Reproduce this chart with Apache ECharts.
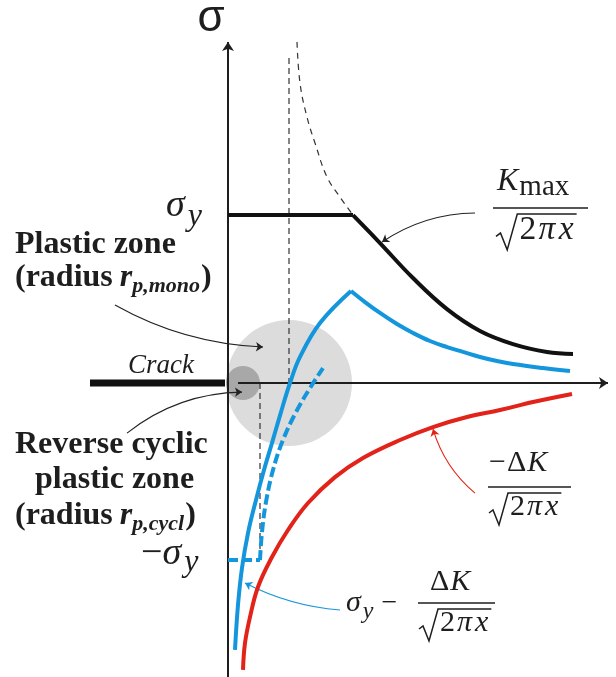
<!DOCTYPE html>
<html>
<head>
<meta charset="utf-8">
<script src="https://cdn.jsdelivr.net/npm/echarts@6/dist/echarts.min.js"></script>
<style>
  html, body { margin: 0; padding: 0; background: #fff; }
  #main { width: 616px; height: 677px; }
</style>
</head>
<body>
<div id="main"></div>
<script>
// x: distance ahead of the crack tip (arbitrary units), y: stress in units of sigma_y
var negSigmaY = -1.054;

var kmaxPlateau = [[0, 1], [6.25, 1]];
var kmaxDecay = [[6.25, 1], [7.6, 0.833], [9.25, 0.625], [10.95, 0.44], [12.6, 0.31], [14.25, 0.232],
  [15.95, 0.185], [17.25, 0.173]];
var kmaxElastic = [[3.45, 2.03], [3.6, 1.786], [3.95, 1.583], [4.35, 1.429], [4.95, 1.226], [5.6, 1.107], [6.25, 1]];
var blueRise = [[0.35, -1.589], [0.5, -1.321], [0.7, -1.101], [1.0, -0.893], [1.4, -0.696], [1.8, -0.518],
  [2.2, -0.357], [2.65, -0.173], [3.1, 0], [3.6, 0.155], [4.6, 0.357], [6.15, 0.548]];
var blueDecay = [[6.15, 0.548], [6.85, 0.482], [7.6, 0.417], [8.45, 0.351], [9.25, 0.298], [10.1, 0.25],
  [10.95, 0.214], [11.75, 0.185], [12.6, 0.155], [13.45, 0.131], [14.25, 0.113], [15.75, 0.089], [17.1, 0.071]];
var blueDashed = [[1.6, -1.054], [1.7, -0.887], [1.9, -0.708], [2.25, -0.518], [2.75, -0.339], [3.4, -0.173],
  [4.1, -0.03], [4.75, 0.089]];
var blueFloor = [[0, negSigmaY], [1.6, negSigmaY]];
var redCurve = [[0.75, -1.708], [0.85, -1.548], [1.1, -1.393], [1.5, -1.214], [2.2, -1.036], [3.0, -0.875],
  [4.0, -0.714], [5.35, -0.56], [6.75, -0.446], [8.6, -0.339], [10.25, -0.262], [11.95, -0.202],
  [13.6, -0.161], [15.25, -0.113], [17.2, -0.065]];
var monoEdge = [[3.05, 1.935], [3.05, 0]];
var cyclEdge = [[1.6, 0], [1.6, negSigmaY]];
var monoZone = [[3.05, 0]];
var cyclZone = [[0.75, 0]];
var crack = [[-6.9, 0], [-0.15, 0]];
var sigmaAxis = [[0, -1.75], [0, 2.03]];
var xAxisLine = [[0.5, 0], [19, 0]];

// pointers from the labels to the curves: [from, to, curveness, colour]
var pointers = [
  [[12.35, 1.012], [7.7, 0.839], -0.15, '#222'],
  [[-5.65, 0.464], [1.75, 0.214], -0.12, '#222'],
  [[-5.05, -0.298], [0.7, -0.054], 0.17, '#222'],
  [[12.35, -0.655], [10.25, -0.274], 0.15, '#e2231a'],
  [[5.6, -1.351], [0.85, -1.19], 0.1, '#1496dc']
];

var BLUE = '#1496dc';
var RED = '#e2231a';
var INK = '#1e1e1e';

function curve(data, color, width, dash, smooth, z) {
  return {
    type: 'line', data: data, smooth: smooth, showSymbol: false, symbol: 'none', silent: true, z: z || 3,
    lineStyle: { color: color, width: width, type: dash || 'solid', cap: 'butt' }
  };
}

function zone(data, color, size) {
  return {
    type: 'scatter', data: data, symbol: 'circle', symbolSize: size, silent: true, z: 1,
    itemStyle: { color: color, opacity: 1 }
  };
}

function axisArrow(data) {
  return {
    type: 'lines', coordinateSystem: 'cartesian2d', silent: true, z: 4,
    symbol: ['none', 'arrow'], symbolSize: 9,
    lineStyle: { color: INK, width: 2, opacity: 1, curveness: 0 },
    data: [{ coords: data }]
  };
}

var pointerSeries = pointers.map(function (p) {
  return {
    type: 'lines', coordinateSystem: 'cartesian2d', silent: true, z: 5,
    symbol: ['none', 'arrow'], symbolSize: 7,
    lineStyle: { color: p[3], width: 1.1, opacity: 1, curveness: p[2] },
    data: [{ coords: [p[0], p[1]] }]
  };
});

// ---- text helpers (annotations in page pixels) ----
var measure = document.createElement('canvas').getContext('2d');
var SERIF = '"Liberation Serif", "DejaVu Serif", serif';
var graphics = [];

function fontOf(p) {
  return (p.it ? 'italic ' : 'normal ') + (p.b ? 'bold ' : 'normal ') + p.s + 'px ' + (p.fam || SERIF);
}

function row(x, base, parts) {
  var cx = x;
  parts.forEach(function (p) {
    var f = fontOf(p);
    cx += p.dx || 0;
    graphics.push({
      type: 'text', x: cx, y: base + (p.dy || 0) - 0.32 * p.s, silent: true,
      style: { text: p.t, font: f, fill: p.c || INK, textAlign: 'left', textVerticalAlign: 'middle' }
    });
    measure.font = f;
    cx += measure.measureText(p.t).width;
  });
  return cx;
}

function bar(x1, x2, y) {
  graphics.push({ type: 'line', silent: true, shape: { x1: x1, y1: y, x2: x2, y2: y },
    style: { stroke: INK, lineWidth: 1.6 } });
}

// sqrt(2 pi x) denominator
function radical(x0, yTop, s) {
  var end = row(x0 + 21 * s, yTop + 24 * s, [
    { t: '2', s: 30 * s },
    { t: 'π', s: 30 * s, it: true, dx: 2 * s },
    { t: 'x', s: 30 * s, it: true, dx: 3 * s }
  ]);
  graphics.push({ type: 'polyline', silent: true,
    shape: { points: [[x0, yTop + 20 * s], [x0 + 4 * s, yTop + 17 * s], [x0 + 10 * s, yTop + 32 * s],
      [x0 + 19 * s, yTop], [end + 3, yTop]] },
    style: { stroke: INK, lineWidth: 1.5, fill: null, lineJoin: 'miter' } });
}

// axis names
graphics.push({ type: 'text', x: 211, y: 33 - 0.32 * 44, silent: true,
  style: { text: 'σ', font: 'normal normal 44px "Liberation Sans", Arial, sans-serif', fill: INK,
    textAlign: 'center', textVerticalAlign: 'middle' } });
row(166, 218, [{ t: 'σ', s: 38, it: true }, { t: 'y', s: 32, it: true, dy: 9, dx: 3 }]);
row(141, 566, [{ t: '−', s: 38 }, { t: 'σ', s: 38, it: true }, { t: 'y', s: 32, it: true, dy: 7, dx: 3 }]);
row(128, 375, [{ t: 'Crack', s: 27, it: true }]);

// zone labels
row(15, 255, [{ t: 'Plastic zone', s: 32, b: true }]);
row(15, 288, [{ t: '(radius', s: 32, b: true }, { t: 'r', s: 32, b: true, it: true, dx: 7 },
  { t: 'p,mono', s: 22, b: true, it: true, dy: 5 }, { t: ')', s: 32, b: true, dx: 1 }]);
row(15, 455, [{ t: 'Reverse cyclic', s: 32, b: true }]);
row(35, 490, [{ t: 'plastic zone', s: 32, b: true }]);
row(15, 526, [{ t: '(radius', s: 32, b: true }, { t: 'r', s: 32, b: true, it: true, dx: 7 },
  { t: 'p,cycl', s: 22, b: true, it: true, dy: 5 }, { t: ')', s: 32, b: true, dx: 1 }]);

// K_max / sqrt(2 pi x)
row(497, 192, [{ t: 'K', s: 32, it: true }, { t: 'max', s: 29, dy: 5, dx: 1 }]);
bar(493, 588, 208);
radical(496, 214, 1.12);

// -dK / sqrt(2 pi x)
row(489, 473, [{ t: '−', s: 30 }, { t: 'Δ', s: 30, dx: 1 }, { t: 'K', s: 30, it: true, dx: 1 }]);
bar(488, 571, 487);
radical(489, 493, 1);

// sigma_y - dK / sqrt(2 pi x)
row(346, 613, [{ t: 'σ', s: 30, it: true }, { t: 'y', s: 24, it: true, dy: 6, dx: 2 }, { t: '−', s: 28, dx: 8 }]);
row(430, 592, [{ t: 'Δ', s: 30 }, { t: 'K', s: 30, it: true, dx: 1 }]);
bar(418, 495, 603);
radical(419, 609, 1);

var option = {
  animation: false,
  backgroundColor: '#fff',
  grid: { left: 0, right: 0, top: 0, bottom: 0 },
  xAxis: { type: 'value', min: -11.4, max: 19.4, show: false },
  yAxis: { type: 'value', min: -1.75, max: 2.28, show: false },
  series: [
    zone(monoZone, '#dcdcdc', 126),
    zone(cyclZone, '#a8a8a8', 34),
    curve(crack, '#111', 7, 'solid', false, 2),
    axisArrow(sigmaAxis),
    axisArrow(xAxisLine),
    curve(monoEdge, '#333', 1.2, [6, 4], false, 3),
    curve(cyclEdge, '#333', 1.2, [6, 4], false, 3),
    curve(kmaxElastic, '#333', 1.2, [6, 5], 0.4, 3),
    curve(kmaxPlateau, '#111', 4, 'solid', false, 6),
    curve(kmaxDecay, '#111', 4, 'solid', 0.4, 6),
    curve(blueRise, BLUE, 4, 'solid', 0.4, 6),
    curve(blueDecay, BLUE, 4, 'solid', 0.4, 6),
    curve(blueFloor, BLUE, 4, [10, 4], false, 6),
    curve(blueDashed, BLUE, 4, [10, 4], 0.4, 6),
    curve(redCurve, RED, 4, 'solid', 0.4, 6)
  ].concat(pointerSeries),
  graphic: graphics
};

var myChart = echarts.init(document.getElementById('main'), null, { renderer: 'canvas' });
myChart.setOption(option);
</script>
</body>
</html>
